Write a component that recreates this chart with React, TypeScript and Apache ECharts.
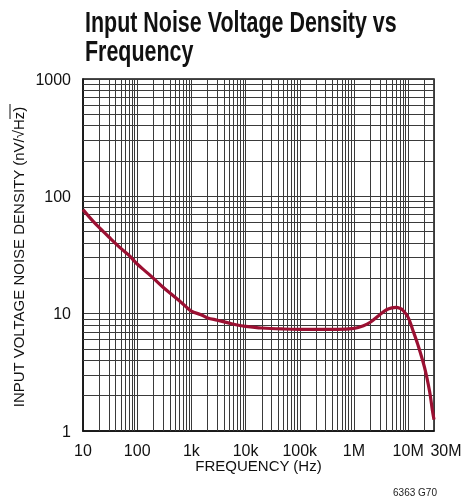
import React, { useEffect, useRef } from "react";
import * as echarts from "echarts";

const frequencies = [
  10, 15, 20, 30, 50, 70, 100, 150, 200, 300, 500, 700, 1000, 1500, 2000, 3000,
  5000, 7000, 10000, 20000, 50000, 100000, 200000, 500000, 1e6, 1.5e6, 2e6, 3e6,
  4e6, 5e6, 6e6, 7e6, 8e6, 1e7, 1.2e7, 1.5e7, 2e7, 2.5e7, 2.8e7, 3e7,
];
const noiseDensity = [
  77, 62, 54, 45, 36, 31.5, 26.5, 22.5, 20, 16.8, 13.8, 12.1, 10.5, 9.8, 9.2, 8.8,
  8.3, 8.0, 7.8, 7.55, 7.4, 7.35, 7.35, 7.35, 7.5, 7.9, 8.45, 9.8,
  10.8, 11.2, 11.3, 11.1, 10.7, 9.3, 7.4, 5.5, 3.5, 2.15, 1.5, 1.25,
];
const xTickValues = [10, 100, 1000, 10000, 100000, 1e6, 1e7, 3e7];
const xTickLabels = ["10", "100", "1k", "10k", "100k", "1M", "10M", "30M"];
const yTickValues = [1, 10, 100, 1000];
const yTickLabels = ["1", "10", "100", "1000"];
const xDecades = [10, 100, 1000, 10000, 100000, 1e6, 1e7];
const yDecades = [1, 10, 100];
const multiples = [2, 3, 4, 5, 6, 7, 8, 9];

const TITLE_1 = "Input Noise Voltage Density vs";
const TITLE_2 = "Frequency";
const X_NAME = "FREQUENCY (Hz)";
const Y_NAME = "INPUT VOLTAGE NOISE DENSITY (nV/\u221AHz)";
const NOTE = "6363 G70";

const GRID_COLOR = "#3a3a3a";
const LINE_COLOR = "#9b1032";
const FONT = "'Liberation Sans', Arial, Helvetica, sans-serif";

export default function App() {
  const ref = useRef<HTMLDivElement>(null);
  useEffect(() => {
    const chart = echarts.init(ref.current!, null, { renderer: "svg" });
    const minorX: number[] = [];
    xDecades.forEach((d) =>
      multiples.forEach((m) => {
        if (d * m < 3e7) minorX.push(d * m);
      })
    );
    const minorY: number[] = [];
    yDecades.forEach((d) => multiples.forEach((m) => minorY.push(d * m)));

    const fmtX = (v: number) => {
      const i = xTickValues.findIndex((t) => Math.abs(t - v) / t < 1e-6);
      if (i < 0) return "";
      if (xTickLabels[i] === "30M") return "{r|30M}";
      return xTickLabels[i];
    };
    const fmtY = (v: number) => {
      const i = yTickValues.findIndex((t) => Math.abs(t - v) / t < 1e-6);
      return i < 0 ? "" : yTickLabels[i];
    };

    chart.setOption({
      animation: false,
      grid: {
        left: 83,
        top: 79,
        width: 351,
        height: 352,
        show: true,
        borderColor: "#111",
        borderWidth: 1.5,
        backgroundColor: "transparent",
      },
      xAxis: {
        type: "log",
        logBase: 10,
        min: 10,
        max: 3e7,
        axisLine: { show: true, lineStyle: { color: "#111", width: 1.5 } },
        axisTick: { show: false },
        splitLine: { show: true, lineStyle: { color: GRID_COLOR, width: 1 } },
        axisLabel: {
          show: true,
          showMaxLabel: true,
          showMinLabel: true,
          fontFamily: FONT,
          fontSize: 16,
          color: "#111",
          margin: 11,
          formatter: fmtX,
          rich: {
            r: { fontFamily: FONT, fontSize: 16, color: "#111", padding: [0, 0, 0, 24] },
          },
        },
      },
      yAxis: {
        type: "log",
        logBase: 10,
        min: 1,
        max: 1000,
        axisLine: { show: true, lineStyle: { color: "#111", width: 1.5 } },
        axisTick: { show: false },
        splitLine: { show: true, lineStyle: { color: GRID_COLOR, width: 1 } },
        axisLabel: {
          fontFamily: FONT,
          fontSize: 16,
          color: "#111",
          margin: 12,
          formatter: fmtY,
        },
      },
      series: [
        {
          type: "line",
          z: 1,
          silent: true,
          symbol: "none",
          lineStyle: { opacity: 0 },
          data: [[10, 1]],
          markLine: {
            silent: true,
            symbol: ["none", "none"],
            label: { show: false },
            lineStyle: { color: GRID_COLOR, width: 1, type: "solid" },
            emphasis: { disabled: true },
            data: [
              ...minorX.map((v) => ({ xAxis: v })),
              ...minorY.map((v) => ({ yAxis: v })),
            ],
          },
        },
        {
          type: "line",
          z: 5,
          symbol: "none",
          smooth: 0.35,
          lineStyle: { color: LINE_COLOR, width: 3.2 },
          data: frequencies.map((f, i) => [f, noiseDensity[i]]),
        },
      ],
      graphic: [
        {
          type: "text",
          x: 85,
          y: 7,
          scaleX: 0.715,
          style: {
            text: TITLE_1,
            font: `bold 30px ${FONT}`,
            fill: "#111",
          },
        },
        {
          type: "text",
          x: 85,
          y: 36,
          scaleX: 0.715,
          style: {
            text: TITLE_2,
            font: `bold 30px ${FONT}`,
            fill: "#111",
          },
        },
        {
          type: "text",
          x: 18,
          y: 257,
          rotation: Math.PI / 2,
          style: {
            text: Y_NAME,
            font: `15px ${FONT}`,
            fill: "#111",
            align: "center",
            verticalAlign: "middle",
          },
        },
        {
          type: "line",
          shape: { x1: 10, y1: 104, x2: 10, y2: 119 },
          style: { stroke: "#111", lineWidth: 1 },
        },
        {
          type: "text",
          x: 258.5,
          y: 458,
          style: {
            text: X_NAME,
            font: `15px ${FONT}`,
            fill: "#111",
            align: "center",
          },
        },
        {
          type: "text",
          x: 415,
          y: 487,
          style: {
            text: NOTE,
            font: `10px ${FONT}`,
            fill: "#222",
            align: "center",
          },
        },
      ],
    });
    return () => chart.dispose();
  }, []);
  return (
    <div
      ref={ref}
      style={{ position: "fixed", left: 0, top: 0, width: 465, height: 501 }}
    />
  );
}
